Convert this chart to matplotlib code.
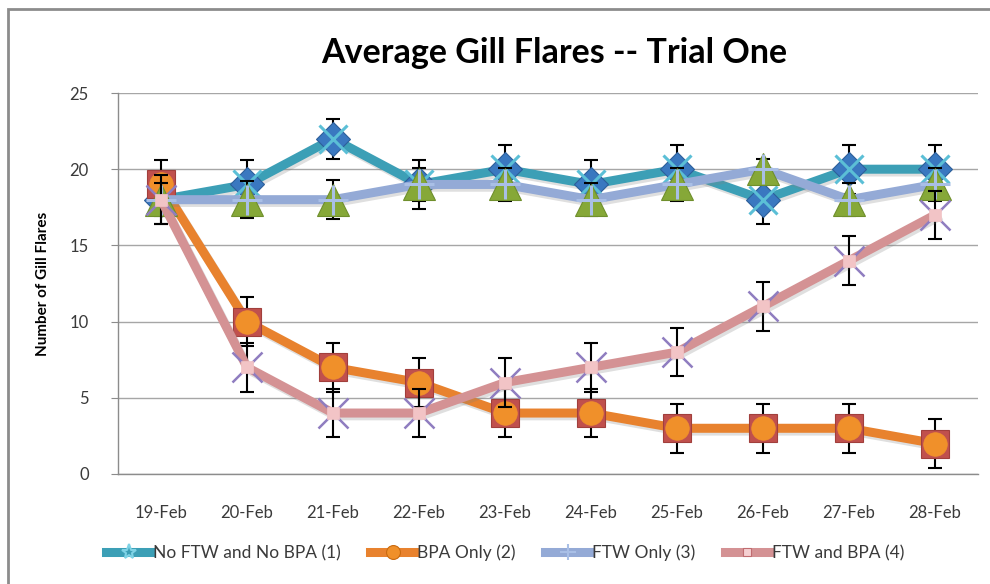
import matplotlib
matplotlib.use("Agg")
import matplotlib.pyplot as plt
from matplotlib.patches import Rectangle
from matplotlib.lines import Line2D
import matplotlib.patheffects as pe
import numpy as np

plt.rcParams['font.family'] = ['Lato', 'DejaVu Sans']

dates = ["19-Feb", "20-Feb", "21-Feb", "22-Feb", "23-Feb", "24-Feb",
         "25-Feb", "26-Feb", "27-Feb", "28-Feb"]
no_ftw_no_bpa = [18, 19, 22, 19, 20, 19, 20, 18, 20, 20]
bpa_only = [19, 10, 7, 6, 4, 4, 3, 3, 3, 2]
ftw_only = [18, 18, 18, 19, 19, 18, 19, 20, 18, 19]
ftw_and_bpa = [18, 7, 4, 4, 6, 7, 8, 11, 14, 17]
err_no_ftw_no_bpa = [1.6, 1.6, 1.3, 1.6, 1.6, 1.6, 1.6, 1.6, 1.6, 1.6]
err_bpa_only = [1.6, 1.6, 1.6, 1.6, 1.6, 1.6, 1.6, 1.6, 1.6, 1.6]
err_ftw_only = [1.1, 1.2, 1.3, 1.1, 1.1, 1.1, 1.1, 0.7, 1.1, 1.1]
err_ftw_and_bpa = [1.6, 1.6, 1.6, 1.6, 1.6, 1.6, 1.6, 1.6, 1.6, 1.6]
labels = ["No FTW and No BPA (1)", "BPA Only (2)", "FTW Only (3)", "FTW and BPA (4)"]

fig = plt.figure(figsize=(9.9, 5.84), dpi=100)
ax = fig.add_axes([118/990, 1-474/584, (978-118)/990, (474-93)/584])

x = np.arange(len(dates))

series = [
    dict(y=no_ftw_no_bpa, e=err_no_ftw_no_bpa, lc='#3c9fb6',
         m1=('D', 17, '#3a78c0', '#2d5f9a'), m2=('x', 20, '#5bbfd6', 2.2)),
    dict(y=bpa_only, e=err_bpa_only, lc='#e8822e',
         m1=('s', 20, '#c0504d', '#a13f3c'), m2=('o', 17, '#f0902a', None)),
    dict(y=ftw_only, e=err_ftw_only, lc='#94aad6',
         m1=('^', 23, '#86a838', '#6f8f2c'), m2=('+', 22, '#a9bfe6', 2.2)),
    dict(y=ftw_and_bpa, e=err_ftw_and_bpa, lc='#d49294',
         m1=('x', 21, '#8f7dc0', 1.8), m2=('s', 8, '#f2c4c6', None)),
]

shadow = [pe.SimpleLineShadow(offset=(1.5, -2), shadow_color='gray', alpha=0.25),
          pe.Normal()]

handles = []
for i, s in enumerate(series):
    z = 3 + i * 3
    ax.errorbar(x, s['y'], yerr=s['e'], fmt='none', ecolor='black',
                elinewidth=1.5, capsize=5, capthick=1.5, zorder=z)
    ax.plot(x, s['y'], color=s['lc'], lw=6.5, solid_joinstyle='miter',
            zorder=z + 0.5, path_effects=shadow)
    mk, ms, fc, ec = s['m1']
    if mk in ('x', '+'):
        ax.plot(x, s['y'], ls='none', marker=mk, ms=ms, mec=fc, mew=ec,
                zorder=z + 1)
    else:
        ax.plot(x, s['y'], ls='none', marker=mk, ms=ms, mfc=fc, mec=ec,
                mew=0.8, zorder=z + 1)
    mk2, ms2, fc2, ec2 = s['m2']
    if mk2 in ('x', '+'):
        ax.plot(x, s['y'], ls='none', marker=mk2, ms=ms2, mec=fc2, mew=ec2,
                zorder=z + 2)
    else:
        ax.plot(x, s['y'], ls='none', marker=mk2, ms=ms2, mfc=fc2,
                mec=fc2, mew=0.5, zorder=z + 2)
    if mk2 in ('x', '+'):
        h = Line2D([], [], color=s['lc'], lw=6.5, marker=('*' if i == 0 else '+'),
                   ms=11, mec=fc2 if i else '#7fd3e6', mew=1.5)
    else:
        h = Line2D([], [], color=s['lc'], lw=6.5, marker=mk2,
                   ms=(10 if i == 1 else 6), mfc=fc2 if i == 1 else '#f5d0d2',
                   mec='#c96a10' if i == 1 else '#c06c70', mew=0.8)
    handles.append(h)

ax.set_xlim(-0.5, len(dates) - 0.5)
ax.set_ylim(0, 25)
ax.set_yticks([0, 5, 10, 15, 20, 25])
ax.set_xticks(x)
ax.set_xticklabels(dates)
ax.yaxis.grid(True, color='#a6a6a6', lw=1)
ax.set_axisbelow(True)
for sp in ['top', 'right']:
    ax.spines[sp].set_visible(False)
for sp in ['left', 'bottom']:
    ax.spines[sp].set_color('#8c8c8c')
    ax.spines[sp].set_linewidth(1)
ax.tick_params(axis='y', length=5, color='#8c8c8c', labelsize=12,
               labelcolor='#3a3a3a', pad=16)
ax.tick_params(axis='x', length=0, labelsize=12, labelcolor='#3a3a3a', pad=22)
ax.set_ylabel("Number of Gill Flares", fontsize=11, fontweight='bold',
              labelpad=14)

fig.text(554/990, 1-53/584, "Average Gill Flares -- Trial One", ha='center',
         va='center', fontsize=24.5, fontweight='bold', color='black')

leg = fig.legend(handles, labels, loc='center', bbox_to_anchor=(505/990, 1-553/584),
                 ncol=4, frameon=False, fontsize=12.5, handlelength=2.6,
                 handletextpad=0.1, columnspacing=1.7)
for t in leg.get_texts():
    t.set_color('#3a3a3a')

fig.patches.append(Rectangle((8/990, -0.2), 1.3, 1.2 - 9/584, transform=fig.transFigure,
                             fill=False, edgecolor='#8c8c8c', lw=2, zorder=0))

fig.savefig("out.png", dpi=100)
